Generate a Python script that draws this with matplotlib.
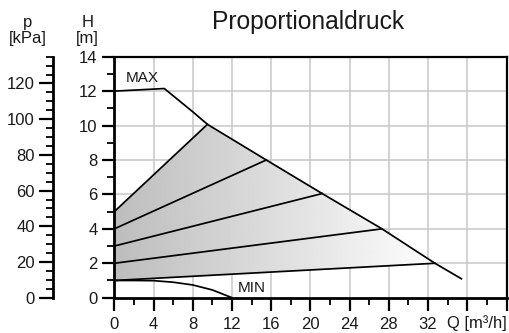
import matplotlib
matplotlib.use("Agg")
import matplotlib.pyplot as plt
import numpy as np
from matplotlib.patches import Polygon

plt.rcParams['font.family'] = ['Liberation Sans', 'DejaVu Sans']

# ---- data ----
max_q = [0, 5.1, 8.0, 9.5, 15.5, 21.2, 27.3, 32.7, 35.4]
max_h = [12.0, 12.15, 10.8, 10.07, 8.0, 6.05, 4.0, 2.0, 1.1]
min_q = [0, 2, 4, 6, 8, 10, 12]
min_h = [1.0, 1.0, 0.99, 0.9, 0.74, 0.45, 0.0]
prop_h0 = [1, 2, 3, 4, 5]
prop_q_end = [32.7, 27.3, 21.2, 15.5, 9.5]
prop_h_end = [2.0, 4.0, 6.05, 8.0, 10.07]
x_ticks = list(range(0, 41, 4))
x_labels = ['0', '4', '8', '12', '16', '20', '24', '28', '32', '', '']
h_ticks = list(range(0, 15, 2))
p_ticks = list(range(0, 121, 20))

W, H = 509, 333
fig = plt.figure(figsize=(W / 100, H / 100), dpi=100)

ax_l, ax_r = 114.3, 506.5
ax_b, ax_t = 297.7, 56.7
ax = fig.add_axes([ax_l / W, 1 - ax_b / H, (ax_r - ax_l) / W, (ax_b - ax_t) / H])
ax.set_xlim(0, 40)
ax.set_ylim(0, 14)

# grid
for xv in range(4, 40, 4):
    ax.axvline(xv, color='#c8c8c8', lw=1.1, zorder=0)
for yv in range(2, 14, 2):
    ax.axhline(yv, color='#c8c8c8', lw=1.1, zorder=0)

# shaded polygon
poly = [(0, prop_h0[0]), (prop_q_end[0], prop_h_end[0])]
for q, h in reversed(list(zip(max_q, max_h))):
    if prop_q_end[-1] <= q <= prop_q_end[0]:
        if (q, h) not in poly:
            poly.append((q, h))
poly.append((0, prop_h0[-1]))
patch = Polygon(poly, closed=True, facecolor='none', edgecolor='none')
ax.add_patch(patch)
grad = np.linspace(0.74, 0.995, 256).reshape(1, -1)
im = ax.imshow(grad, extent=[0, prop_q_end[0], 0, 14], aspect='auto', cmap='gray',
               vmin=0, vmax=1, zorder=1, interpolation='bilinear')
im.set_clip_path(patch)

# lines
ax.plot(max_q, max_h, color='black', lw=1.25, zorder=3)
ax.plot(min_q, min_h, color='black', lw=1.25, zorder=3)
for h0, qe, he in zip(prop_h0, prop_q_end, prop_h_end):
    ax.plot([0, qe], [h0, he], color='black', lw=1.25, zorder=3)

ax.text(1.2, 12.75, 'MAX', fontsize=11, va='center', ha='left', color='#1a1a1a')
ax.text(12.6, 0.55, 'MIN', fontsize=11, va='center', ha='left', color='#1a1a1a')

# spines
for s in ['left', 'bottom']:
    ax.spines[s].set_linewidth(2.0)
for s in ['top', 'right']:
    ax.spines[s].set_linewidth(1.6)

ax.set_xticks(x_ticks)
ax.set_xticklabels(x_labels)
ax.set_xticks(range(2, 40, 4), minor=True)
ax.set_yticks(h_ticks)
ax.set_yticks(range(1, 14, 2), minor=True)
ax.tick_params(axis='both', which='major', length=9, width=1.6, labelsize=12,
               labelcolor='#1a1a1a', direction='out')
ax.tick_params(axis='x', which='major', pad=5)
ax.tick_params(axis='y', which='major', pad=3)
ax.tick_params(axis='both', which='minor', length=5, width=1.3, direction='out')

# Q label
fig.text(446.7 / W, 1 - 323.5 / H, 'Q [m³/h]', fontsize=12, ha='left', va='center',
         color='#1a1a1a')

# pressure axis
axp = fig.add_axes([53 / W, 1 - ax_b / H, 0.001, (ax_b - ax_t) / H])
axp.set_ylim(0, 135)
axp.patch.set_visible(False)
for s in ['top', 'right', 'bottom']:
    axp.spines[s].set_visible(False)
axp.spines['left'].set_linewidth(2.0)
axp.set_xticks([])
axp.set_yticks(p_ticks)
axp.set_yticks(range(5, 136, 5), minor=True)
axp.tick_params(axis='y', which='major', length=10, width=1.6, labelsize=12,
                labelcolor='#1a1a1a', pad=3)
axp.tick_params(axis='y', which='minor', length=5, width=1.3)

# axis titles
fig.text(27.5 / W, 1 - 30.5 / H, 'p\n[kPa]', fontsize=12, ha='center', va='center',
         linespacing=1.08, color='#1a1a1a')
fig.text(87.5 / W, 1 - 30.5 / H, 'H\n[m]', fontsize=12, ha='center', va='center',
         linespacing=1.08, color='#1a1a1a')

# title
fig.text(308.4 / W, 1 - 29.3 / H, 'Proportionaldruck', fontsize=17.7, ha='center',
         va='baseline', color='#1a1a1a')

fig.savefig('out.png', dpi=100)
